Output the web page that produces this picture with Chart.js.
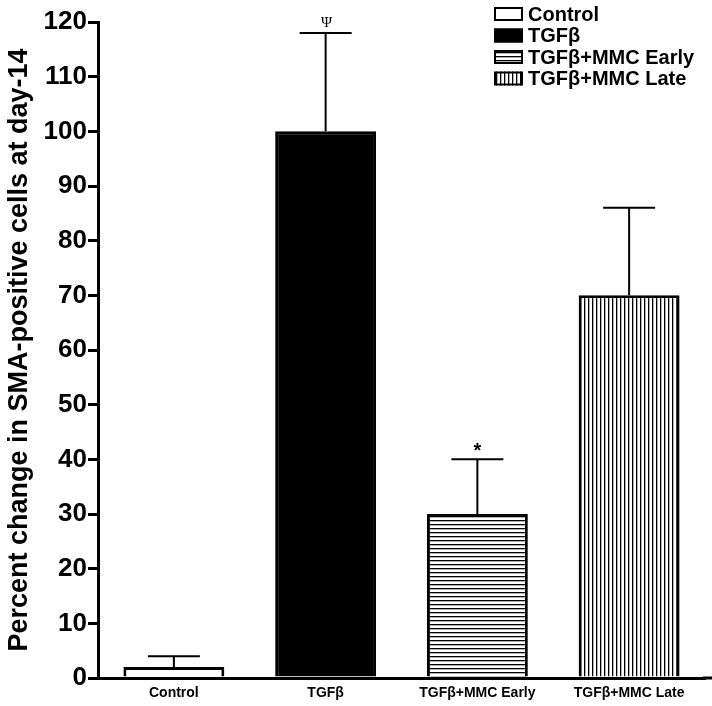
<!DOCTYPE html>
<html>
<head>
<meta charset="utf-8">
<script src="https://cdn.jsdelivr.net/npm/chart.js@4.4.1/dist/chart.umd.min.js"></script>
<style>
  html, body { margin: 0; padding: 0; background: #fff; }
  #wrap { width: 712px; height: 706px; }
</style>
</head>
<body>
<div id="wrap"><canvas id="chart" width="712" height="706"></canvas></div>
<script>
// data
const categories = ['Control', 'TGFβ', 'TGFβ+MMC Early', 'TGFβ+MMC Late'];
const means = [2, 100, 30, 70];
const errUpper = [2, 18, 10, 16];
const marks = ['', 'Ψ', '*', ''];
const yMin = 0, yMax = 120, yStep = 10;
const yTitle = 'Percent change in SMA-positive cells at day-14';

const FONT = "'Liberation Sans', Arial, sans-serif";

// hatch fills
function makePattern(dir) {
  const c = document.createElement('canvas');
  c.width = 4; c.height = 4;
  const g = c.getContext('2d');
  g.fillStyle = '#fff';
  g.fillRect(0, 0, 4, 4);
  g.fillStyle = '#000';
  if (dir === 'h') g.fillRect(0, 0, 4, 1); else g.fillRect(0, 0, 1, 4);
  g.fillStyle = 'rgba(0,0,0,0.3)';
  if (dir === 'h') g.fillRect(0, 1, 4, 1); else g.fillRect(1, 0, 1, 4);
  return g.createPattern(c, 'repeat');
}
const fills = ['#ffffff', '#000000', makePattern('h'), makePattern('v')];

// error bars + significance marks
const errorBars = {
  id: 'errorBars',
  afterDatasetsDraw(chart) {
    const ctx = chart.ctx;
    const y = chart.scales.y;
    const meta = chart.getDatasetMeta(0);
    ctx.save();
    ctx.strokeStyle = '#000';
    ctx.lineWidth = 2;
    meta.data.forEach((bar, i) => {
      const top = y.getPixelForValue(means[i] + errUpper[i]);
      const base = y.getPixelForValue(means[i]);
      ctx.beginPath();
      ctx.moveTo(bar.x, base);
      ctx.lineTo(bar.x, top);
      ctx.moveTo(bar.x - 26, top);
      ctx.lineTo(bar.x + 26, top);
      ctx.stroke();
      if (marks[i]) {
        ctx.fillStyle = '#000';
        ctx.textAlign = 'center';
        ctx.textBaseline = 'alphabetic';
        if (marks[i] === '*') {
          ctx.font = 'bold 20px ' + FONT;
          ctx.fillText(marks[i], bar.x, top - 2);
        } else {
          ctx.font = "15px 'Liberation Serif', 'Times New Roman', serif";
          ctx.fillText(marks[i], bar.x + 1, top - 6);
        }
      }
    });
    // x axis line runs on to the right edge
    ctx.lineWidth = 3;
    ctx.beginPath();
    ctx.moveTo(chart.chartArea.right - 2, y.getPixelForValue(0));
    ctx.lineTo(chart.width, y.getPixelForValue(0));
    ctx.stroke();
    ctx.restore();
  }
};

// legend in the top right corner
const boxLegend = {
  id: 'boxLegend',
  afterDraw(chart) {
    const ctx = chart.ctx;
    ctx.save();
    ctx.font = 'bold 20px ' + FONT;
    ctx.textBaseline = 'middle';
    ctx.textAlign = 'left';
    categories.forEach((name, i) => {
      const top = 7 + i * 21.5;
      ctx.fillStyle = fills[i];
      ctx.fillRect(494, top, 29, 14);
      ctx.strokeStyle = '#000';
      ctx.lineWidth = 2;
      ctx.strokeRect(495, top + 1, 27, 12);
      ctx.fillStyle = '#000';
      ctx.fillText(name, 528, top + 8);
    });
    ctx.restore();
  }
};

new Chart(document.getElementById('chart'), {
  type: 'bar',
  data: {
    labels: categories,
    datasets: [{
      data: means,
      backgroundColor: fills,
      borderColor: '#000',
      borderWidth: 3,
      barPercentage: 0.665,
      categoryPercentage: 1.0
    }]
  },
  options: {
    responsive: false,
    animation: false,
    layout: { padding: { top: 22, right: 7, left: 0, bottom: 0 } },
    plugins: { legend: { display: false }, tooltip: { enabled: false } },
    scales: {
      x: {
        grid: { display: false, drawTicks: false },
        border: { display: true, color: '#000', width: 3 },
        ticks: { color: '#000', font: { family: FONT, size: 14, weight: 'bold' }, padding: 7, maxRotation: 0 },
        afterFit: s => { s.height = 28; }
      },
      y: {
        min: yMin,
        max: yMax,
        ticks: { stepSize: yStep, color: '#000', font: { family: FONT, size: 26, weight: 'bold' }, padding: 1 },
        grid: { drawOnChartArea: false, drawTicks: true, tickLength: 10, lineWidth: 3, color: '#000' },
        border: { display: true, color: '#000', width: 3 },
        title: {
          display: true,
          text: yTitle,
          color: '#000',
          font: { family: FONT, size: 27, weight: 'bold' },
          padding: { top: 3, bottom: 0 }
        },
        afterFit: s => { s.width = 98; }
      }
    }
  },
  plugins: [errorBars, boxLegend]
});
</script>
</body>
</html>
